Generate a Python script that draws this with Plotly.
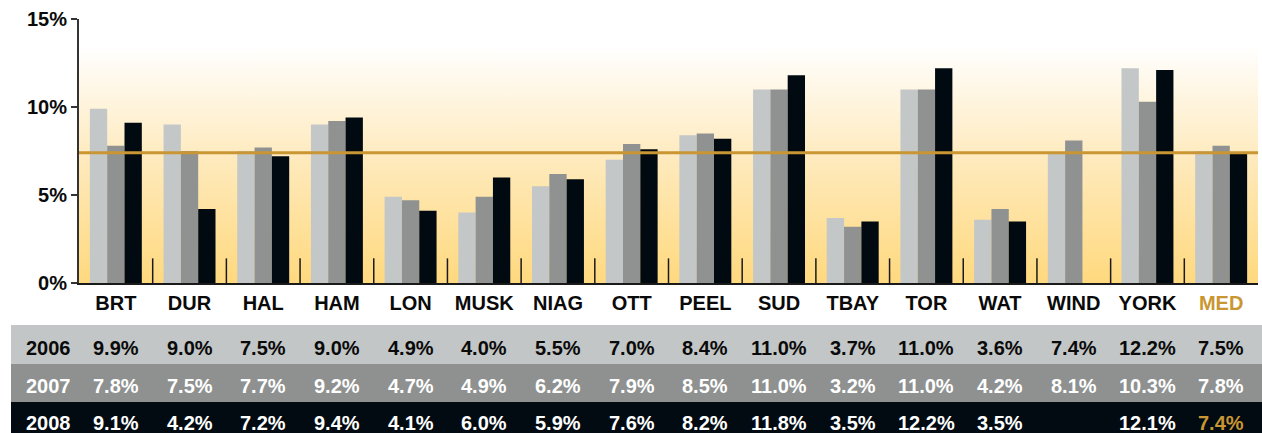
import plotly.graph_objects as go

categories = ["BRT", "DUR", "HAL", "HAM", "LON", "MUSK", "NIAG", "OTT", "PEEL",
              "SUD", "TBAY", "TOR", "WAT", "WIND", "YORK", "MED"]
years = ["2006", "2007", "2008"]
v2006 = [9.9, 9.0, 7.5, 9.0, 4.9, 4.0, 5.5, 7.0, 8.4, 11.0, 3.7, 11.0, 3.6, 7.4, 12.2, 7.5]
v2007 = [7.8, 7.5, 7.7, 9.2, 4.7, 4.9, 6.2, 7.9, 8.5, 11.0, 3.2, 11.0, 4.2, 8.1, 10.3, 7.8]
v2008 = [9.1, 4.2, 7.2, 9.4, 4.1, 6.0, 5.9, 7.6, 8.2, 11.8, 3.5, 12.2, 3.5, None, 12.1, 7.4]
series = [v2006, v2007, v2008]
median_value = v2008[-1]
y_ticks = [0, 5, 10, 15]
y_ticklabels = ["0%", "5%", "10%", "15%"]

FONT = "Liberation Sans"
GOLD = "#C99633"
bar_colors = ["#C3C7C7", "#8F9291", "#020A11"]
row_colors = ["#C2C6C6", "#8E9190", "#020B11"]
row_text_colors = ["#0A0A0A", "#FFFFFF", "#FFFFFF"]

n = len(categories)
xs = list(range(n))
x_lo, x_hi = -0.5, n - 0.5
y_max = 15

fig = go.Figure()

# background gradient on base axes (drawn underneath)
fig.add_trace(go.Scatter(
    x=[x_lo, x_hi, x_hi, x_lo, x_lo], y=[0, 0, y_max, y_max, 0],
    mode="lines", line=dict(width=0), fill="toself",
    fillgradient=dict(type="vertical",
                      colorscale=[[0, "#FFD97E"], [0.45, "#FEE9BA"], [0.9, "#FFFFFF"], [1, "#FFFFFF"]],
                      start=0, stop=y_max),
    hoverinfo="skip", showlegend=False, xaxis="x", yaxis="y"))

for yr, vals, col in zip(years, series, bar_colors):
    fig.add_trace(go.Bar(x=xs, y=vals, name=yr, marker=dict(color=col, line=dict(width=0)),
                         xaxis="x2", yaxis="y2", showlegend=False))

fig.add_trace(go.Scatter(x=[x_lo, x_hi], y=[median_value, median_value], mode="lines",
                         line=dict(color=GOLD, width=3), xaxis="x2", yaxis="y2",
                         showlegend=False, hoverinfo="skip"))

shapes = []
# small separators between categories
for i in range(n - 1):
    shapes.append(dict(type="line", xref="x2", yref="y2", x0=i + 0.5, x1=i + 0.5,
                       y0=0, y1=1.4, line=dict(color="#1A1A1A", width=1.5)))

# table rows (paper coords; plot area spans px 19..283 vertically, 79..1258 horizontally)
plot_h = 264.0
plot_w = 1179.0
def py(pix):
    return (283 - pix) / plot_h
def px(pix):
    return (pix - 79) / plot_w

row_bounds = [(325, 364), (364, 402), (402, 445)]
text_centers = [347.5, 386, 422.5]
for (top, bot), col in zip(row_bounds, row_colors):
    shapes.append(dict(type="rect", xref="paper", yref="paper", x0=px(11), x1=px(1270),
                       y0=py(bot), y1=py(top), fillcolor=col, line=dict(width=0), layer="below"))

annotations = []
for r, (yr, vals) in enumerate(zip(years, series)):
    yc = py(text_centers[r])
    annotations.append(dict(text=yr, xref="paper", yref="paper", x=px(48), y=yc,
                            showarrow=False, xanchor="center", yanchor="middle",
                            font=dict(family=FONT, size=20, weight="bold", color=row_text_colors[r])))
    for i, v in enumerate(vals):
        if v is None:
            continue
        color = row_text_colors[r]
        if r == 2 and categories[i] == "MED":
            color = GOLD
        annotations.append(dict(text=f"{v:.1f}%", xref="x2", yref="paper", x=i, y=yc,
                                showarrow=False, xanchor="center", yanchor="middle",
                                font=dict(family=FONT, size=20, weight="bold", color=color)))

ticktext = [f"<span style='color:{GOLD}'>{c}</span>" if c == "MED" else c for c in categories]

fig.update_layout(
    template="none",
    width=1262, height=433,
    margin=dict(l=79, r=4, t=19, b=150, autoexpand=False),
    paper_bgcolor="white", plot_bgcolor="white",
    barmode="group", bargap=0.295, bargroupgap=0,
    font=dict(family=FONT, size=20, color="#111111"),
    xaxis=dict(range=[x_lo, x_hi], visible=False, fixedrange=True, automargin=False),
    yaxis=dict(range=[0, y_max], visible=False, fixedrange=True, automargin=False),
    xaxis2=dict(range=[x_lo, x_hi], overlaying="x", tickvals=xs, ticktext=ticktext,
                showline=True, linecolor="#1A1A1A", linewidth=2, ticks="", showgrid=False,
                zeroline=False, ticklabelstandoff=1, automargin=False,
                tickfont=dict(family=FONT, size=20, weight="bold", color="#0A0A0A")),
    yaxis2=dict(range=[0, y_max], overlaying="y", tickvals=y_ticks, ticktext=y_ticklabels,
                showline=True, linecolor="#333333", linewidth=2, ticks="outside", ticklen=6,
                tickwidth=1.5, tickcolor="#333333", showgrid=False, zeroline=False,
                automargin=False,
                tickfont=dict(family=FONT, size=20, weight="bold", color="#0A0A0A")),
    shapes=shapes, annotations=annotations,
)

# remove the browser's default 8px page margin so the figure fills the window exactly
fig.write_html("out.html", config={"displayModeBar": False},
               post_script="document.body.style.margin='0';document.body.style.overflow='hidden';")
